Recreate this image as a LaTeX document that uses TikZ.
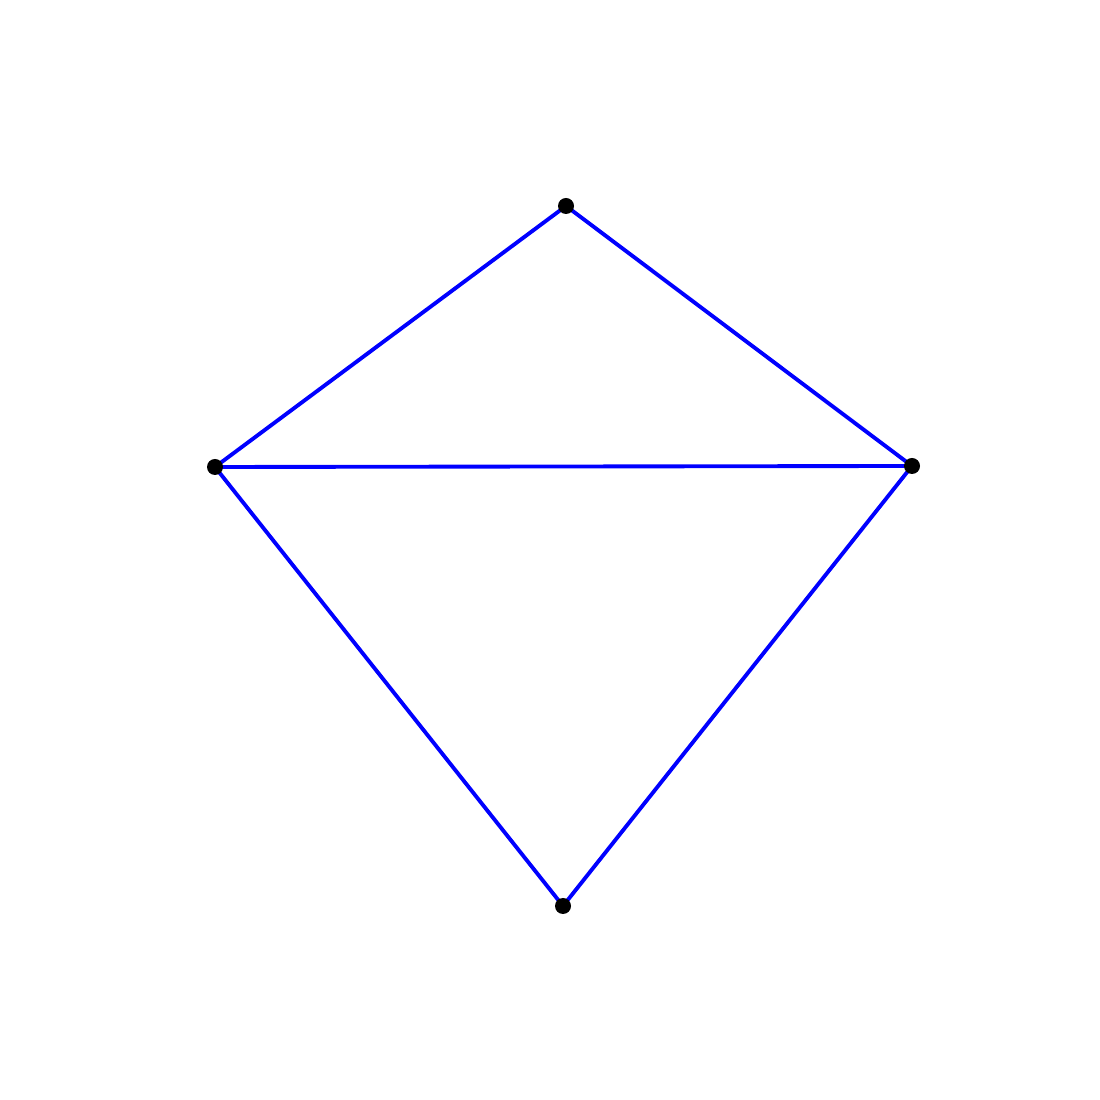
\documentclass[tikz,border=0pt]{standalone}
\usetikzlibrary{backgrounds}

\begin{document}
\begin{tikzpicture}[
	vertex/.style={
		circle,
		fill=black,
		draw=none,
		minimum size=0.16cm,
		inner sep=0pt
	},
	edge/.style={blue,line width=1.1pt}
]

% Marco
\useasboundingbox (0,0) rectangle (11,11);

% Vertices
\node[vertex] (top) at (5.66,8.94) {};
\node[vertex] (left) at (2.15,6.33) {};
\node[vertex] (right) at (9.12,6.34) {};
\node[vertex] (bottom) at (5.63,1.94) {};

% Aristas
\begin{scope}[on background layer]
\draw[edge] (top.center) -- (left.center);
\draw[edge] (top.center) -- (right.center);
\draw[edge] (left.center) -- (right.center);
\draw[edge] (left.center) -- (bottom.center);
\draw[edge] (right.center) -- (bottom.center);
\end{scope}

\end{tikzpicture}
\end{document}
